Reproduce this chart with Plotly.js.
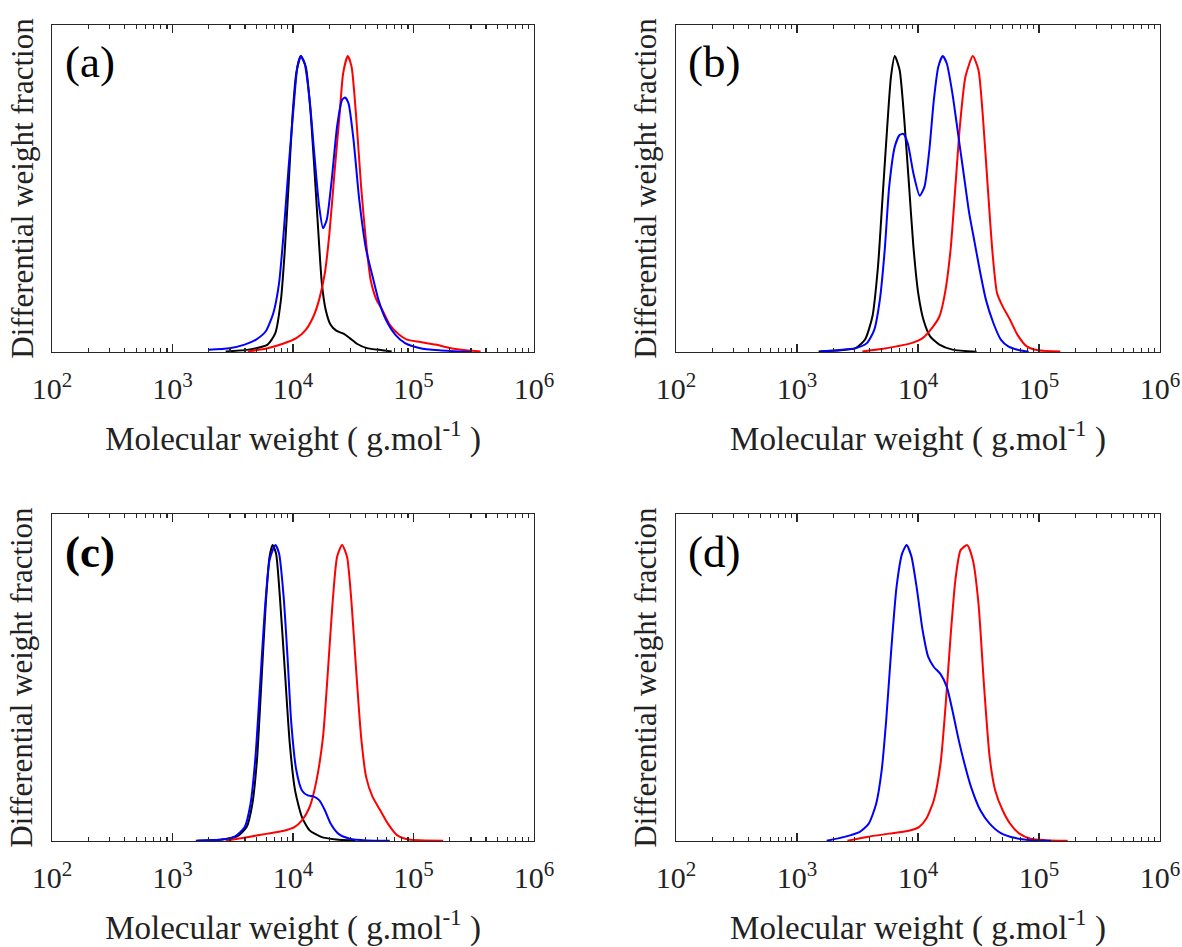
<!DOCTYPE html>
<html>
<head>
<meta charset="utf-8">
<script src="https://cdn.plot.ly/plotly-3.0.1.min.js"></script>
<style>html,body{margin:0;padding:0;background:#fff;}#chart{width:1182px;height:947px;}</style>
</head>
<body>
<div id="chart"></div>
<script>
// ---------- data (molecular weight in g/mol, normalised differential weight fraction) ----------
const panelLabels = ["(a)", "(b)", "(c)", "(d)"];
const xTickVals = [1e2, 1e3, 1e4, 1e5, 1e6];
const xTickText = ["10<sup>2</sup>", "10<sup>3</sup>", "10<sup>4</sup>", "10<sup>5</sup>", "10<sup>6</sup>"];

// Panel (a)
const aBlackM = [2760, 4280, 6150, 7130, 7940, 8550, 9200, 9890, 10640, 11610, 12760, 13930, 15000, 16110, 17340, 18660, 20510, 22860, 26490, 29510, 34200, 41020, 54950, 65920];
const aBlackW = [0.002, 0.008, 0.025, 0.064, 0.177, 0.345, 0.570, 0.795, 0.942, 1.0, 0.964, 0.818, 0.627, 0.424, 0.233, 0.143, 0.092, 0.072, 0.061, 0.047, 0.027, 0.013, 0.006, 0.002];
const aBlueM = [1990, 2970, 3970, 4940, 5940, 6870, 7660, 8360, 9200, 10120, 10870, 11610, 12490, 13740, 15000, 16480, 17740, 19060, 20950, 23210, 25530, 27060, 28880, 31780, 35460, 40460, 45750, 51100, 59060, 70840, 85050, 113800, 163900, 293700];
const aBlueW = [0.008, 0.013, 0.025, 0.042, 0.070, 0.132, 0.233, 0.402, 0.627, 0.829, 0.964, 1.0, 0.975, 0.852, 0.672, 0.492, 0.418, 0.447, 0.582, 0.762, 0.852, 0.860, 0.840, 0.717, 0.514, 0.345, 0.255, 0.177, 0.109, 0.058, 0.030, 0.013, 0.006, 0.0];
const aRedM = [4220, 6150, 8240, 10640, 12760, 14760, 16480, 18380, 20060, 22070, 24260, 26070, 28450, 30610, 33420, 36730, 40450, 44070, 49200, 54950, 63540, 76210, 88130, 113800, 152400, 204000, 272900, 360400];
const aRedW = [0.002, 0.013, 0.028, 0.047, 0.075, 0.120, 0.177, 0.267, 0.402, 0.604, 0.795, 0.942, 1.0, 0.964, 0.795, 0.559, 0.368, 0.244, 0.177, 0.143, 0.092, 0.058, 0.042, 0.034, 0.025, 0.013, 0.006, 0.002];

// Panel (b)
const bBlackM = [1510, 2300, 3060, 3650, 4200, 4670, 5080, 5570, 5980, 6430, 7050, 7670, 8410, 9160, 10040, 11090, 12590, 15030, 19240, 30470];
const bBlackW = [0.002, 0.006, 0.013, 0.042, 0.120, 0.289, 0.514, 0.762, 0.930, 1.0, 0.953, 0.795, 0.570, 0.357, 0.199, 0.109, 0.053, 0.025, 0.008, 0.001];
const bBlueM = [1560, 2140, 3060, 3780, 4350, 4840, 5310, 5780, 6430, 7050, 7570, 8230, 9160, 10330, 11320, 12410, 13520, 14720, 16000, 17300, 19240, 21410, 23810, 26490, 29440, 32730, 36390, 41950, 48350, 55700, 68870, 82200];
const bBlueW = [0.002, 0.006, 0.013, 0.030, 0.075, 0.177, 0.345, 0.559, 0.694, 0.733, 0.737, 0.705, 0.604, 0.528, 0.559, 0.683, 0.852, 0.964, 1.0, 0.975, 0.874, 0.739, 0.604, 0.469, 0.368, 0.267, 0.177, 0.098, 0.042, 0.019, 0.006, 0.001];
const bRedM = [3470, 5010, 6650, 8830, 10910, 13030, 15030, 16710, 18580, 20370, 22180, 24660, 28390, 31600, 34380, 37690, 41320, 44990, 50030, 57640, 66400, 79300, 98100, 150000];
const bRedW = [0.002, 0.010, 0.019, 0.030, 0.047, 0.081, 0.120, 0.199, 0.345, 0.559, 0.762, 0.930, 1.0, 0.953, 0.795, 0.559, 0.334, 0.199, 0.154, 0.109, 0.058, 0.019, 0.006, 0.002];

// Panel (c)
const cBlackM = [1600, 2570, 3440, 4120, 4600, 5020, 5440, 5940, 6390, 6770, 7230, 7780, 8550, 9400, 10400, 11860, 13740, 17100, 22860, 32960];
const cBlackW = [0.001, 0.005, 0.016, 0.047, 0.126, 0.273, 0.521, 0.802, 0.961, 1.0, 0.972, 0.825, 0.577, 0.329, 0.171, 0.081, 0.036, 0.014, 0.005, 0.001];
const cBlueM = [1560, 2570, 3310, 3970, 4440, 4880, 5320, 5810, 6390, 7130, 7660, 8360, 9000, 9680, 10650, 11860, 13240, 14760, 16480, 18380, 20510, 23720, 29510, 41020, 63540];
const cBlueW = [0.001, 0.005, 0.016, 0.047, 0.126, 0.284, 0.521, 0.769, 0.950, 1.0, 0.972, 0.825, 0.622, 0.397, 0.239, 0.171, 0.154, 0.151, 0.138, 0.104, 0.059, 0.025, 0.008, 0.002, 0.001];
const cRedM = [2760, 4280, 6150, 8240, 10260, 11860, 13740, 15670, 17740, 19500, 21280, 23210, 25530, 28070, 30610, 33420, 36730, 40450, 45750, 52930, 61240, 73460, 91470, 176200];
const cRedW = [0.001, 0.014, 0.025, 0.034, 0.047, 0.070, 0.115, 0.205, 0.352, 0.577, 0.803, 0.961, 1.0, 0.961, 0.803, 0.577, 0.352, 0.216, 0.149, 0.104, 0.059, 0.019, 0.005, 0.001];

// Panel (d)
const dBlueM = [1760, 2470, 3280, 3920, 4510, 5010, 5460, 5980, 6650, 7400, 8050, 8830, 9820, 10910, 12150, 13520, 15360, 17300, 19240, 21410, 23810, 27420, 32730, 39080, 48350, 64130, 85110, 125600];
const dBlueW = [0.001, 0.014, 0.030, 0.059, 0.126, 0.239, 0.408, 0.634, 0.859, 0.972, 1.0, 0.961, 0.848, 0.713, 0.622, 0.588, 0.564, 0.521, 0.442, 0.352, 0.273, 0.183, 0.104, 0.059, 0.027, 0.010, 0.003, 0.001];
const dRedM = [2610, 3780, 5780, 8220, 10190, 11730, 13520, 15360, 16950, 18580, 20370, 22490, 25530, 28440, 31600, 35180, 39080, 43450, 50030, 57640, 68870, 85110, 113000, 172600];
const dRedW = [0.001, 0.014, 0.025, 0.034, 0.047, 0.076, 0.138, 0.262, 0.464, 0.690, 0.882, 0.983, 1.0, 0.949, 0.803, 0.521, 0.284, 0.171, 0.104, 0.059, 0.025, 0.008, 0.003, 0.001];

// ---------- figure ----------
const FONT = "'Liberation Serif', 'Times New Roman', serif";
const AXC = "#262626";
const colors = {black: "#000000", blue: "#0000ff", red: "#ff0000"};

function tr(x, y, color, ax) {
  return {x: x, y: y, type: "scatter", mode: "lines", xaxis: "x" + ax, yaxis: "y" + ax,
          line: {color: color, width: 2, shape: "spline", smoothing: 0.6}, showlegend: false, hoverinfo: "skip"};
}

const data = [
  tr(aBlackM, aBlackW, colors.black, ""), tr(aRedM, aRedW, colors.red, ""), tr(aBlueM, aBlueW, colors.blue, ""),
  tr(bBlackM, bBlackW, colors.black, "2"), tr(bRedM, bRedW, colors.red, "2"), tr(bBlueM, bBlueW, colors.blue, "2"),
  tr(cBlackM, cBlackW, colors.black, "3"), tr(cRedM, cRedW, colors.red, "3"), tr(cBlueM, cBlueW, colors.blue, "3"),
  tr(dRedM, dRedW, colors.red, "4"), tr(dBlueM, dBlueW, colors.blue, "4")
];

const minorVals = [];
for (let e = 2; e < 6; e++) for (let k = 2; k <= 9; k++) minorVals.push(k * Math.pow(10, e));

function xax(domain, anchor) {
  return {
    type: "log", range: [2, 6], domain: domain, anchor: anchor,
    showline: true, linecolor: AXC, linewidth: 1.3, mirror: "ticks",
    ticks: "inside", ticklen: 8, tickwidth: 1.2, tickcolor: AXC,
    tickmode: "array", tickvals: xTickVals, ticktext: xTickText,
    minor: {tickmode: "array", tickvals: minorVals, ticks: "inside", ticklen: 4, tickwidth: 1.2, tickcolor: AXC, showgrid: false},
    showgrid: false, zeroline: false,
    tickfont: {family: FONT, size: 30, color: "#222"},
    ticklabelstandoff: 10,
    title: {text: "Molecular weight ( g.mol<sup>-1</sup> )", font: {family: FONT, size: 33, color: "#222"}, standoff: 22}
  };
}
function yax(domain, anchor) {
  return {
    range: [0, 1.105], domain: domain, anchor: anchor,
    showline: true, linecolor: AXC, linewidth: 1.3, mirror: true,
    ticks: "", showticklabels: false, showgrid: false, zeroline: false,
    title: {text: "Differential weight fraction", font: {family: FONT, size: 31, color: "#222"}, standoff: 8}
  };
}

const colL = [0.0440, 0.4518], colR = [0.5719, 0.9814];
const rowT = [0.6283, 0.9736], rowB = [0.1119, 0.4572];

const ann = [];
const annPos = [[0.0530, 0.9345], [0.5800, 0.9345], [0.0530, 0.4170], [0.5800, 0.4170]];
panelLabels.forEach((lab, i) => {
  ann.push({text: i === 2 ? "<b>" + lab + "</b>" : lab, xref: "paper", yref: "paper", x: annPos[i][0], y: annPos[i][1],
            xanchor: "left", yanchor: "middle", showarrow: false, font: {family: FONT, size: 45, color: "#000"}});
});

const layout = {
  width: 1182, height: 947, margin: {l: 0, r: 0, t: 0, b: 0},
  paper_bgcolor: "#fff", plot_bgcolor: "#fff",
  font: {family: FONT},
  xaxis: xax(colL, "y"), yaxis: yax(rowT, "x"),
  xaxis2: xax(colR, "y2"), yaxis2: yax(rowT, "x2"),
  xaxis3: xax(colL, "y3"), yaxis3: yax(rowB, "x3"),
  xaxis4: xax(colR, "y4"), yaxis4: yax(rowB, "x4"),
  annotations: ann
};

Plotly.newPlot("chart", data, layout, {staticPlot: true, displayModeBar: false});
</script>
</body>
</html>
